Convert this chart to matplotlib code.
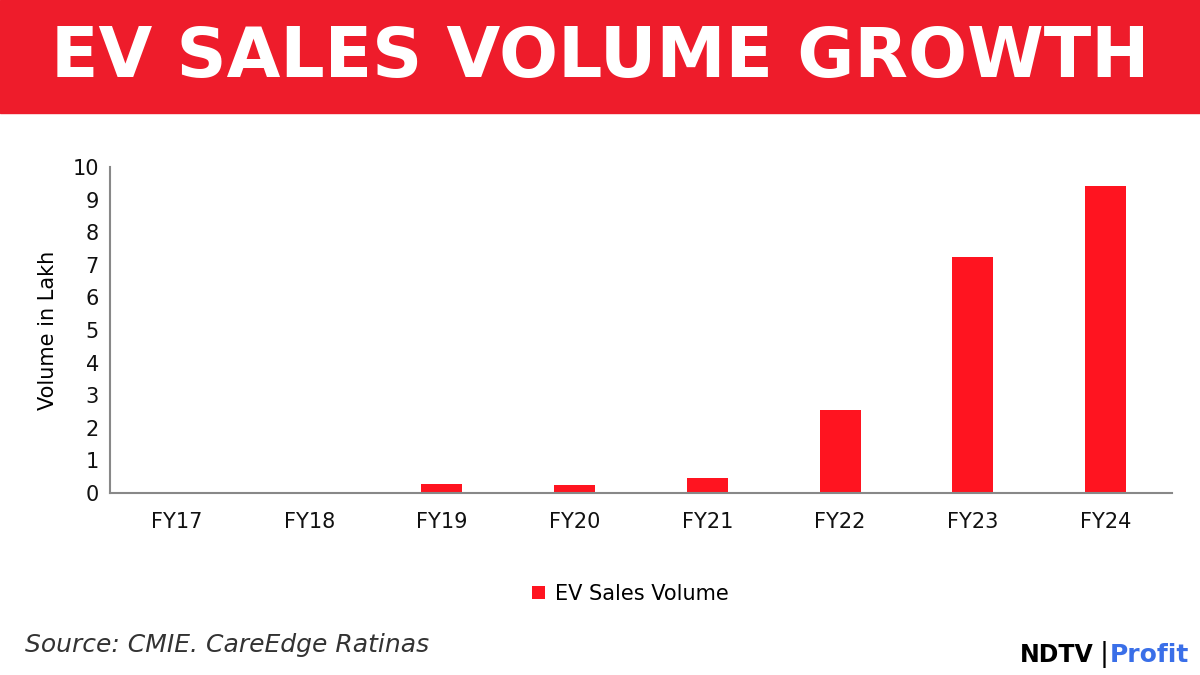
import matplotlib
matplotlib.use("Agg")
import matplotlib.pyplot as plt
from matplotlib.patches import Rectangle

categories = ["FY17", "FY18", "FY19", "FY20", "FY21", "FY22", "FY23", "FY24"]
values = [0.01, 0.02, 0.28, 0.26, 0.46, 2.55, 7.24, 9.42]
yticks = list(range(0, 11))

RED = "#FF1420"
fig = plt.figure(figsize=(12, 6.75), dpi=100)
fig.patch.set_facecolor("white")
fig.add_artist(Rectangle((0, 1 - 113/675), 1, 113/675, transform=fig.transFigure, color="#EE1C2B", zorder=0))
fig.text(0.5, 1 - 58/675, "EV SALES VOLUME GROWTH", ha="center", va="center",
         color="white", fontsize=50, fontweight="black", family="DejaVu Sans")

ax = fig.add_axes([110/1200, 1 - 493/675, (1172-110)/1200, (493-167)/675])
x = range(len(categories))
ax.bar(x, values, width=0.31, color=RED, label="EV Sales Volume")
ax.set_xlim(-0.5, len(categories) - 0.5)
ax.set_ylim(0, 10)
ax.set_yticks(yticks)
ax.set_xticks(list(x))
ax.set_xticklabels(categories)
for s in ["top", "right"]:
    ax.spines[s].set_visible(False)
for s in ["left", "bottom"]:
    ax.spines[s].set_color("#888888")
    ax.spines[s].set_linewidth(1.5)
ax.tick_params(axis="both", length=0, labelsize=15, colors="#111111")
ax.tick_params(axis="x", pad=14)
ax.tick_params(axis="y", pad=8)
ax.set_ylabel("Volume in Lakh", fontsize=15, labelpad=10)
ax.legend(loc="center", bbox_to_anchor=(0.49, -0.31), frameon=False, fontsize=15,
          handlelength=0.6, handleheight=0.6, handletextpad=0.5)

fig.text(25/1200, 1 - 645/675, "Source: CMIE. CareEdge Ratinas", fontsize=18, style="italic",
         color="#333333", va="center")
fig.text(1020/1200, 1 - 655/675, "NDTV", fontsize=17, fontweight="black", color="black", va="center")
fig.text(1100/1200, 1 - 655/675, "|", fontsize=19, color="black", va="center")
fig.text(1110/1200, 1 - 655/675, "Profit", fontsize=18, fontweight="bold", color="#3A6FE8", va="center")

fig.savefig("out.png", dpi=100)
